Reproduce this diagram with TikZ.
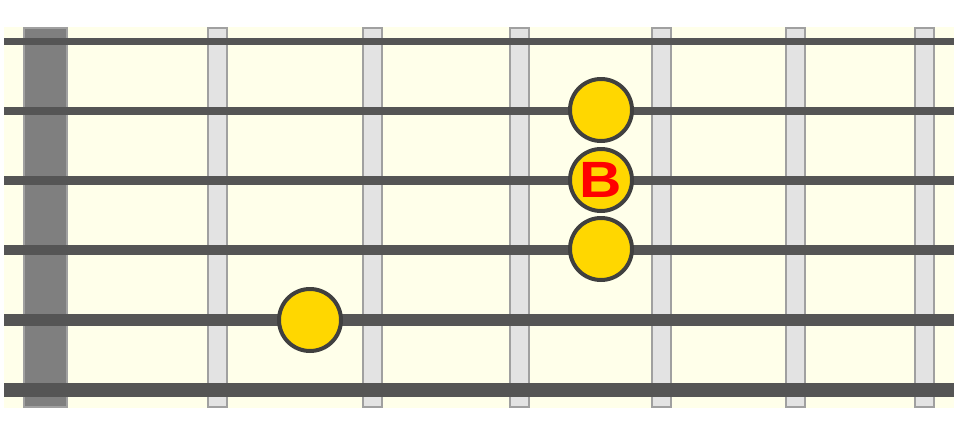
\documentclass[tikz,border=0pt]{standalone}
\usepackage{fontspec}
\setmainfont{Liberation Sans}
\usepackage{graphicx}
\usepackage{tikz}
\definecolor{board}{HTML}{FFFFEA}
\definecolor{nutgray}{HTML}{7F7F7F}
\definecolor{fretfill}{HTML}{E3E3E3}
\definecolor{fretedge}{HTML}{A0A0A0}
\definecolor{stringgray}{HTML}{555555}
\definecolor{dotedge}{HTML}{404040}
\definecolor{dotgold}{HTML}{FFD700}
\def\fret(#1){\draw[fill=fretfill, draw=fretedge, line width=2] (#1-9.5, 28) rectangle (#1+9.5, 407);}
\tikzset{note/.style={circle, draw=dotedge, fill=dotgold, line width=4, minimum size=62, inner sep=0, font=\fontsize{51}{51}\selectfont\bfseries, text=red}}

\begin{document}
\begin{tikzpicture}[x=1pt, y=-1pt]
			%%%%% START %%%%%
			\useasboundingbox (0, 0) rectangle (954, 437);
			\fill[white] (0, 0) rectangle (954, 437);
			\fill[board] (4, 27) rectangle (954, 408);
			
			\draw[fill=nutgray, draw=fretedge, line width=2] (24, 28) rectangle (67, 407);
			
			\fret(217.5)
			\fret(372)
			\fret(519.5)
			\fret(661)
			\fret(795)
			\fret(924)
			
			\draw[stringgray, line width=7] (4, 41.5) -- (954, 41.5);
			\draw[stringgray, line width=8] (4, 111) -- (954, 111);
			\draw[stringgray, line width=9] (4, 180) -- (954, 180);
			\draw[stringgray, line width=10] (4, 250) -- (954, 250);
			\draw[stringgray, line width=12] (4, 320) -- (954, 320);
			\draw[stringgray, line width=14] (4, 390) -- (954, 390);
			
			\node[note] (d2) at (601, 110) {};
			\node[note] (d3) at (601, 180) {\scalebox{1.15}[1]{B}};
			\node[note] (d4) at (601, 249) {};
			\node[note] (d5) at (310, 320) {};
			%%%%% END %%%%%
		\end{tikzpicture}
\end{document}
